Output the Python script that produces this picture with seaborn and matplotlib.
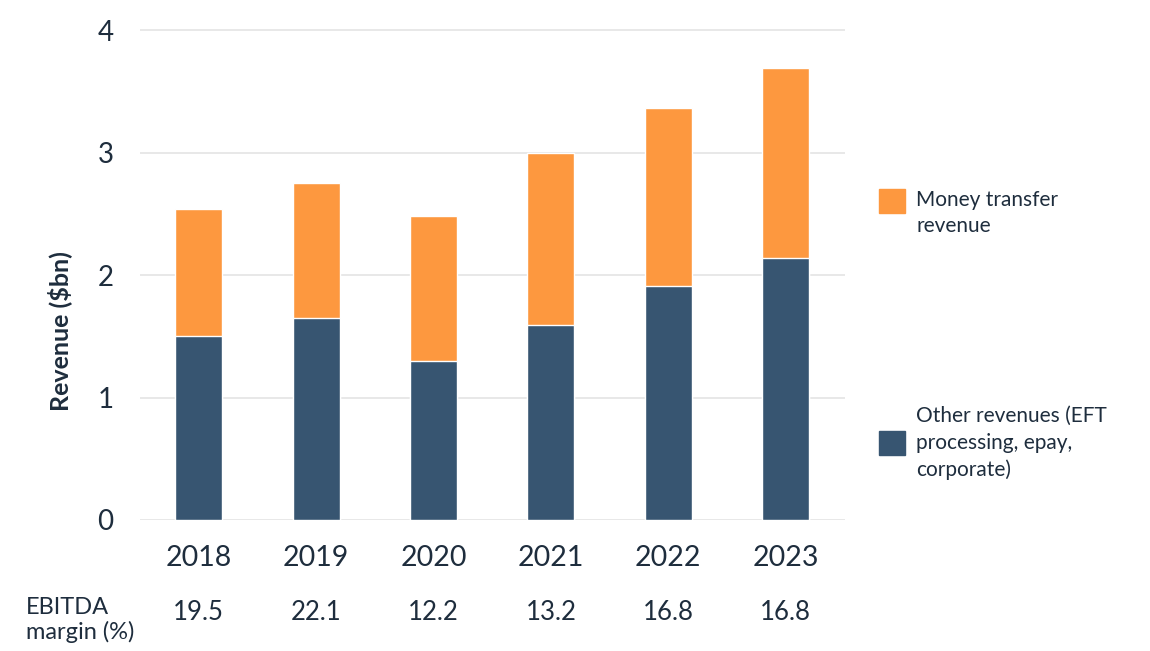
import matplotlib
matplotlib.use("Agg")
import matplotlib.pyplot as plt
import matplotlib.patches as mpatches
import matplotlib.transforms as mtransforms
import seaborn as sns
import pandas as pd

years = ["2018", "2019", "2020", "2021", "2022", "2023"]
other_rev = [1.50, 1.65, 1.30, 1.59, 1.91, 2.14]
money_transfer = [1.04, 1.10, 1.18, 1.41, 1.45, 1.55]
ebitda_margin = ["19.5", "22.1", "12.2", "13.2", "16.8", "16.8"]
y_ticks = [0, 1, 2, 3, 4]

ORANGE = "#FD983F"
NAVY = "#375571"
TEXT = "#1E2D3D"

df = pd.DataFrame({"year": years, "other": other_rev, "money": money_transfer})
df["total"] = df["other"] + df["money"]

sns.set_theme(style="white")
plt.rcParams["font.family"] = ["Lato", "DejaVu Sans"]

fig = plt.figure(figsize=(11.5, 6.51), dpi=100)
ax = fig.add_axes([140 / 1150, 1 - 520 / 651, 704.5 / 1150, (520 - 23.9) / 651])

# stacked bars: total first (orange), then the lower segment on top of it
sns.barplot(data=df, x="year", y="total", color=ORANGE, width=0.4,
            saturation=1, ax=ax, zorder=3)
sns.barplot(data=df, x="year", y="other", color=NAVY, width=0.4,
            saturation=1, ax=ax, zorder=3)

ax.set_xlim(-0.5, 5.5)
ax.set_ylim(0, 4.05)
ax.set_yticks(y_ticks)
ax.set_yticklabels([str(t) for t in y_ticks])
ax.grid(axis="y", color="#E8E8E8", linewidth=1.4, zorder=0)
ax.grid(axis="x", visible=False)
for s in ax.spines.values():
    s.set_visible(False)
ax.tick_params(axis="x", length=0, pad=18, labelsize=20.5, labelcolor=TEXT)
ax.tick_params(axis="y", length=0, pad=19, labelsize=20, labelcolor=TEXT)
ax.set_xlabel("")
ax.set_ylabel("Revenue ($bn)", fontsize=18, fontweight="bold", color=TEXT)
ax.yaxis.set_label_coords(-0.097, 0.381)

# EBITDA margin row under the year labels
trans = mtransforms.blended_transform_factory(ax.transData, fig.transFigure)
for i, m in enumerate(ebitda_margin):
    ax.text(i, 1 - 612 / 651, m, transform=trans, ha="center", va="center",
            fontsize=18.5, color=TEXT)
fig.text(26 / 1150, 1 - 620 / 651, "EBITDA\nmargin (%)", ha="left", va="center",
         fontsize=17, color=TEXT, linespacing=1.15)

# legend drawn by hand to match the layout
fig.add_artist(mpatches.Rectangle((879 / 1150, 1 - 213 / 651), 26 / 1150, 24 / 651,
                                  transform=fig.transFigure, color=ORANGE))
fig.text(916 / 1150, 1 - 213 / 651, "Money transfer\nrevenue", ha="left", va="center",
         fontsize=15, color=TEXT, linespacing=1.4)
fig.add_artist(mpatches.Rectangle((879 / 1150, 1 - 455 / 651), 26 / 1150, 24 / 651,
                                  transform=fig.transFigure, color=NAVY))
fig.text(916 / 1150, 1 - 443 / 651, "Other revenues (EFT\nprocessing, epay,\ncorporate)",
         ha="left", va="center", fontsize=15, color=TEXT, linespacing=1.4)

fig.savefig("out.png", dpi=100)
